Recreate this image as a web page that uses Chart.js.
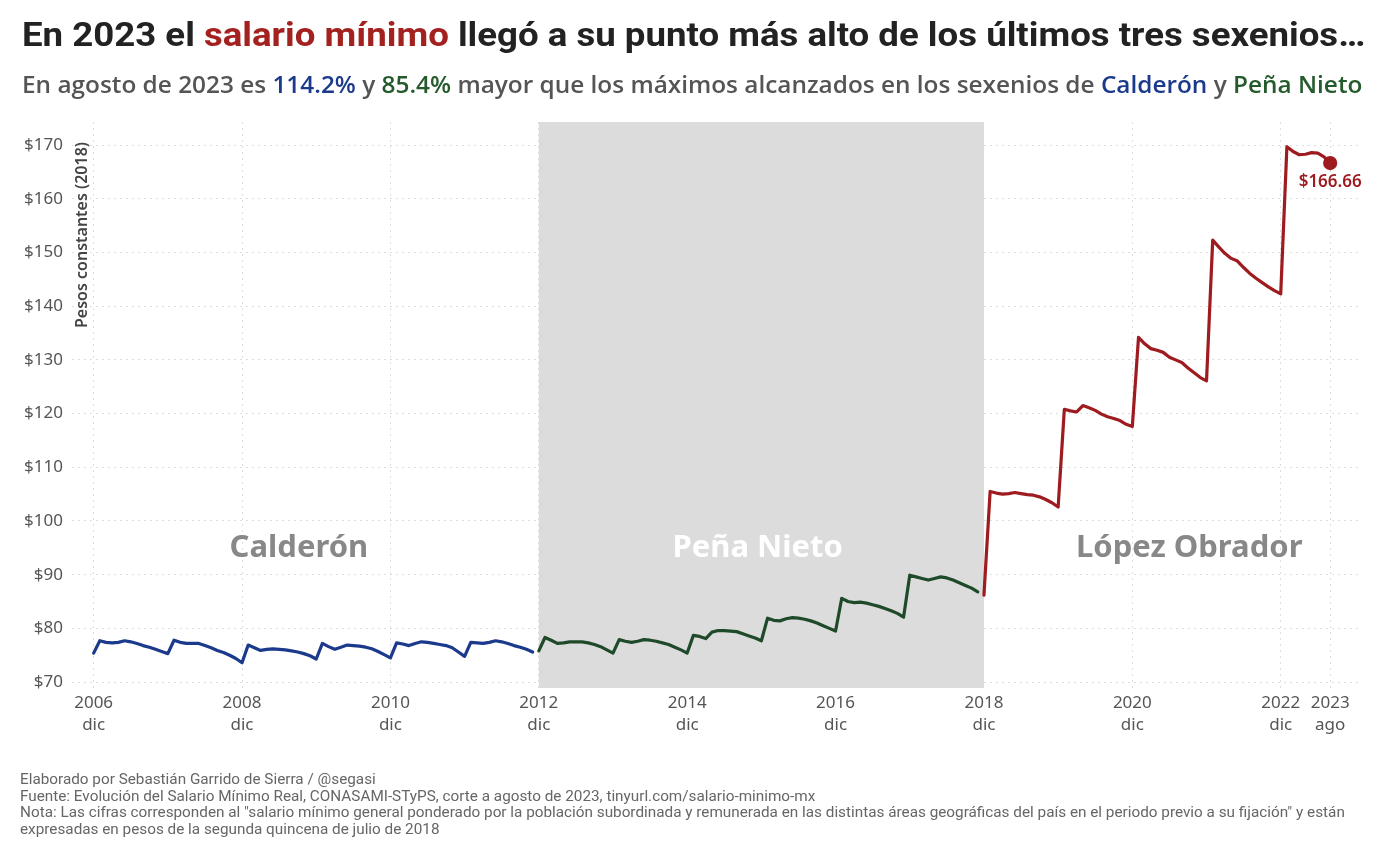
<!DOCTYPE html>
<html>
<head>
<meta charset="utf-8">
<script src="https://cdn.jsdelivr.net/npm/chart.js@4/dist/chart.umd.min.js"></script>
<style>
  html,body{margin:0;padding:0;background:#fff;}
  body{width:1392px;height:854px;position:relative;overflow:hidden;}
  #c{position:absolute;left:0;top:0;}
  .txt{position:absolute;white-space:nowrap;transform-origin:0 0;z-index:2;}
  #title{left:22px;top:17px;font:700 34px Roboto;line-height:34px;color:#222;}
  #subtitle{left:22px;top:72px;font:600 24px "Open Sans";line-height:24px;color:#555;}
  .red{color:#a3211f;}
  .blue{color:#1b3a8c;}
  .green{color:#245a2c;}
  #footer{left:20px;top:771px;font:400 15px Roboto;line-height:16.5px;color:#666;}
</style>
</head>
<body>
<canvas id="c" width="1392" height="854"></canvas>
<div id="title" class="txt">En 2023 el <span class="red">salario mínimo</span> llegó a su punto más alto de los últimos tres sexenios…</div>
<div id="subtitle" class="txt">En agosto de 2023 es <span class="blue">114.2%</span> y <span class="green">85.4%</span> mayor que los máximos alcanzados en los sexenios de <span class="blue">Calderón</span> y <span class="green">Peña Nieto</span></div>
<div id="footer" class="txt">Elaborado por Sebastián Garrido de Sierra / @segasi<br>Fuente: Evolución del Salario Mínimo Real, CONASAMI-STyPS, corte a agosto de 2023, tinyurl.com/salario-minimo-mx<br><span id="nota">Nota: Las cifras corresponden al "salario mínimo general ponderado por la población subordinada y remunerada en las distintas áreas geográficas del país en el periodo previo a su fijación" y están</span><br>expresadas en pesos de la segunda quincena de julio de 2018</div>
<script>
// ---- DATA (salario mínimo real, pesos constantes 2018, mensual) ----
// Calderón: dic 2006 – nov 2012
const calderon = [
  75.4,
  77.7,77.4,77.3,77.4,77.7,77.5,77.2,76.8,76.5,76.1,75.7,75.3,
  77.8,77.4,77.2,77.2,77.2,76.8,76.4,75.9,75.5,75.0,74.4,73.6,
  76.9,76.4,75.9,76.1,76.2,76.1,76.0,75.8,75.6,75.3,74.9,74.3,
  77.2,76.6,76.1,76.5,76.9,76.8,76.7,76.5,76.2,75.7,75.1,74.5,
  77.3,77.1,76.8,77.2,77.5,77.4,77.2,77.0,76.8,76.4,75.6,74.8,
  77.4,77.3,77.2,77.4,77.7,77.5,77.2,76.8,76.5,76.1,75.6
];
// Peña Nieto: dic 2012 – nov 2018
const penaNieto = [
  75.8,
  78.3,77.8,77.2,77.3,77.5,77.5,77.5,77.3,77.0,76.6,76.0,75.4,
  77.9,77.6,77.4,77.6,77.9,77.8,77.6,77.3,77.0,76.5,76.0,75.4,
  78.7,78.5,78.1,79.3,79.6,79.6,79.5,79.4,79.0,78.6,78.2,77.7,
  81.9,81.5,81.4,81.8,82.0,81.9,81.7,81.4,81.0,80.5,80.0,79.5,
  85.6,85.0,84.8,84.9,84.7,84.4,84.1,83.7,83.3,82.8,82.1,89.9,
  89.6,89.3,89.0,89.3,89.6,89.4,89.0,88.5,88.0,87.5,86.8
];
// López Obrador: dic 2018 – ago 2023
const lopezObrador = [
  86.2,
  105.5,105.2,105.0,105.1,105.3,105.1,104.9,104.8,104.5,104.0,103.4,102.6,
  120.8,120.5,120.3,121.5,121.1,120.6,119.9,119.4,119.1,118.7,118.0,117.6,
  134.2,133.0,132.1,131.8,131.4,130.5,130.0,129.5,128.5,127.6,126.7,126.1,
  152.3,151.0,149.8,148.9,148.4,147.2,146.1,145.2,144.4,143.6,142.9,142.3,
  169.7,168.8,168.2,168.3,168.6,168.5,167.8,166.66
];
// month index (0 = dic 2006) where each sexenio's series starts
const sexenioStart = [0, 72, 144];
const sexenioNames = ['Calderón', 'Peña Nieto', 'López Obrador'];
// x-axis ticks (month index) and their two-line labels
const tickMonthIndex = [0, 24, 48, 72, 96, 120, 144, 168, 192, 200];
const tickYears = ['2006','2008','2010','2012','2014','2016','2018','2020','2022','2023'];
const tickMonthNames = ['dic','dic','dic','dic','dic','dic','dic','dic','dic','ago'];
const yTickValues = [70, 80, 90, 100, 110, 120, 130, 140, 150, 160, 170];

// ---- styles ----
const COLORS = {calderon:'#1b3a8c', pena:'#1f4a2a', amlo:'#9e1b1f', band:'#dcdcdc', grid:'#dedede', tick:'#555'};
const toPts = (arr, start) => arr.map((v, i) => ({x: start + i, y: v}));

const decorPlugin = {
  id: 'decor',
  beforeDatasetsDraw(chart) {
    const {ctx, chartArea: a, scales: {x, y}} = chart;
    ctx.save();
    const x0 = x.getPixelForValue(sexenioStart[1]);
    const x1 = x.getPixelForValue(sexenioStart[2]);
    ctx.fillStyle = COLORS.band;
    ctx.fillRect(x0, a.top, x1 - x0, a.bottom - a.top);
    const labelX = [33.2, 107.4, 177.2];
    const labelColor = ['#888888', '#ffffff', '#888888'];
    ctx.font = '700 31px "Noto Sans"';
    ctx.textAlign = 'center';
    ctx.textBaseline = 'middle';
    sexenioNames.forEach((n, i) => {
      ctx.fillStyle = labelColor[i];
      ctx.fillText(n, x.getPixelForValue(labelX[i]), y.getPixelForValue(95));
    });
    ctx.translate(a.left + 10, a.top + 113);
    ctx.rotate(-Math.PI / 2);
    ctx.font = '600 16px "Noto Sans"';
    ctx.fillStyle = '#444';
    ctx.textAlign = 'center';
    ctx.fillText('Pesos constantes (2018)', 0, 0);
    ctx.restore();
  },
  afterDatasetsDraw(chart) {
    const {ctx, scales: {x, y}} = chart;
    const lastIdx = lopezObrador.length - 1;
    const lastVal = lopezObrador[lastIdx];
    ctx.save();
    ctx.font = '600 17px "Noto Sans"';
    ctx.fillStyle = COLORS.amlo;
    ctx.textAlign = 'center';
    ctx.textBaseline = 'middle';
    ctx.fillText('$' + lastVal.toFixed(2), x.getPixelForValue(sexenioStart[2] + lastIdx), y.getPixelForValue(lastVal) + 19);
    ctx.restore();
  }
};

const lineDs = (data, start, color, isLast) => ({
  data: toPts(data, start),
  borderColor: color,
  backgroundColor: color,
  borderWidth: 3.2,
  tension: 0,
  borderJoinStyle: 'round',
  borderCapStyle: 'round',
  pointRadius: isLast ? (c => c.dataIndex === data.length - 1 ? 5.5 : 0) : 0,
  pointHoverRadius: 0,
  fill: false
});

new Chart(document.getElementById('c'), {
  type: 'line',
  data: {
    datasets: [
      lineDs(calderon, sexenioStart[0], COLORS.calderon, false),
      lineDs(penaNieto, sexenioStart[1], COLORS.pena, false),
      lineDs(lopezObrador, sexenioStart[2], COLORS.amlo, true)
    ]
  },
  options: {
    responsive: false,
    animation: false,
    events: [],
    layout: {padding: {left: 0, right: 34, top: 122, bottom: 106}},
    plugins: {legend: {display: false}, tooltip: {enabled: false}, title: {display: false}},
    scales: {
      x: {
        type: 'linear',
        min: -3.5,
        max: 204.5,
        afterBuildTicks: s => { s.ticks = tickMonthIndex.map(v => ({value: v})); },
        afterFit: s => { s.height = 60; },
        grid: {color: COLORS.grid, lineWidth: 1, drawTicks: false},
        border: {display: false, dash: [2, 4]},
        ticks: {
          autoSkip: false,
          maxRotation: 0,
          padding: 4,
          color: COLORS.tick,
          font: {family: '"Noto Sans"', size: 17, lineHeight: 1.3},
          callback: v => { const i = tickMonthIndex.indexOf(v); return i < 0 ? '' : [tickYears[i], tickMonthNames[i]]; }
        }
      },
      y: {
        type: 'linear',
        min: 68.9,
        max: 174.3,
        afterBuildTicks: s => { s.ticks = yTickValues.map(v => ({value: v})); },
        afterFit: s => { s.width = 72; },
        grid: {color: COLORS.grid, lineWidth: 1, drawTicks: false},
        border: {display: false, dash: [2, 4]},
        ticks: {
          padding: 9,
          color: COLORS.tick,
          font: {family: '"Noto Sans"', size: 17},
          callback: v => '$' + v
        }
      }
    }
  },
  plugins: [decorPlugin]
});

// fit text widths to the reference layout (offsetWidth ignores transforms)
function fit(id, target, measureId) {
  const el = document.getElementById(id);
  const w = document.getElementById(measureId || id).offsetWidth;
  if (w > 0) el.style.transform = 'scaleX(' + (target / w) + ')';
}
function fitAll() { fit('title', 1343); fit('subtitle', 1340); fit('footer', 1325, 'nota'); }
fitAll();
document.fonts.ready.then(fitAll);
</script>
</body>
</html>
